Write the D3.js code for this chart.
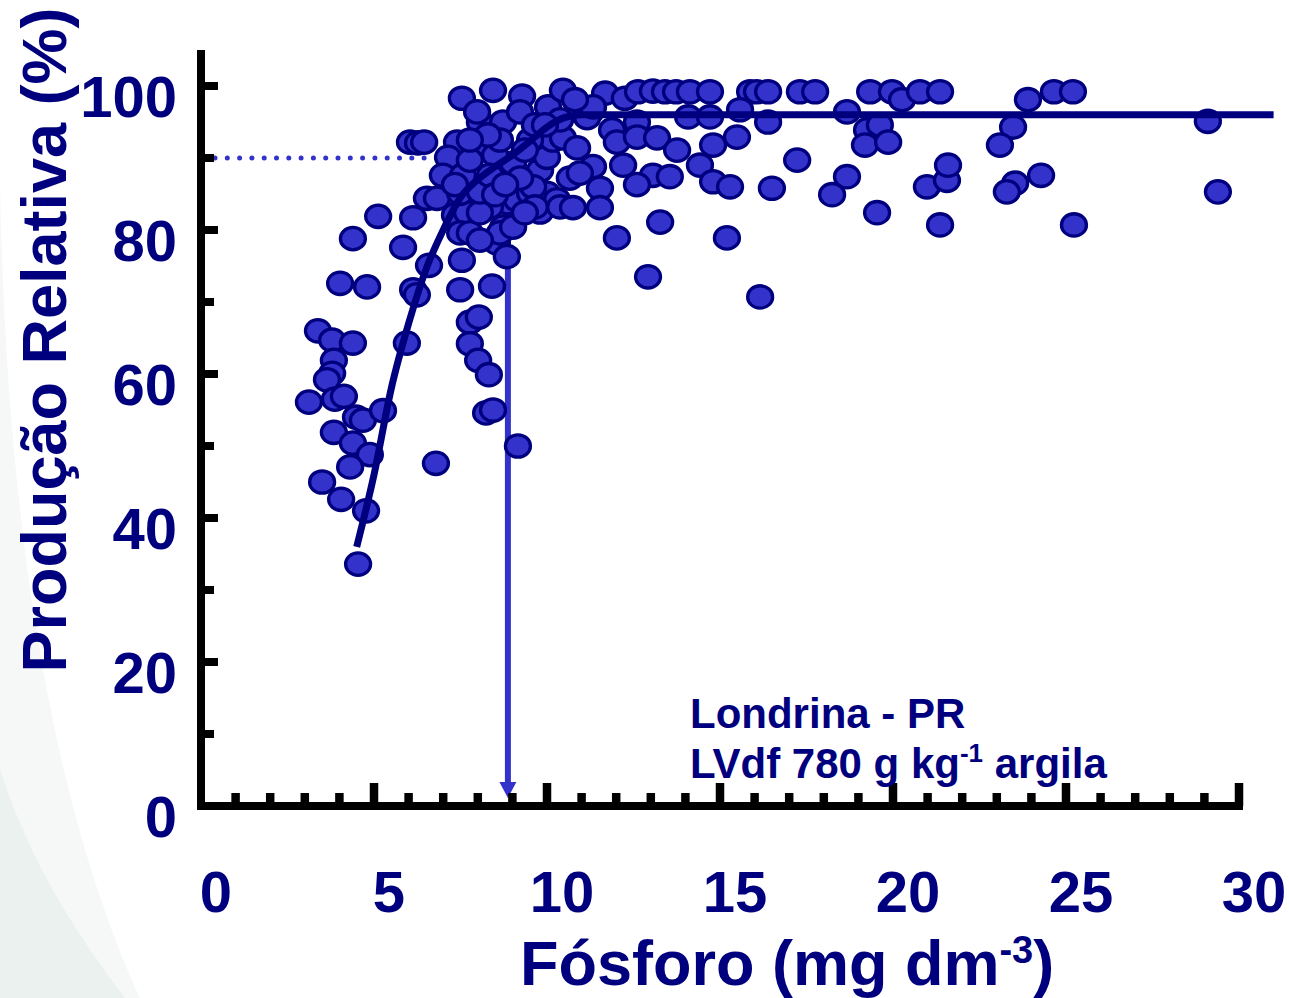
<!DOCTYPE html>
<html><head><meta charset="utf-8">
<script src="https://cdn.jsdelivr.net/npm/d3@7"></script>
<style>html,body{margin:0;padding:0;background:#fff;} svg{display:block;}</style>
</head><body>
<svg id="chart" width="1289" height="998"></svg>
<script>
// Observations: soil P (mg dm-3) and relative yield (%)
const phosphorus = [3.38,3.79,4.39,3.84,3.79,3.64,3.12,3.87,4.13,4.48,4.68,5.26,3.84,4.39,4.88,4.31,3.50,4.05,4.77,4.54,
 4.02,4.80,4.39,5.12,5.95,6.13,6.24,6.79,5.84,6.59,6.13,6.53,6.04,6.27,6.45,
 7.49,8.41,7.77,8.03,7.77,8.01,8.32,8.24,8.44,9.16,7.54,8.55,8.84,8.73,8.84,8.35,9.13,7.34,7.69,7.49,7.77,8.06,
 7.54,8.44,9.28,10.03,8.06,7.98,8.73,9.22,7.40,7.14,7.98,9.02,9.80,10.0,10.17,6.82,7.49,8.06,9.51,10.0,9.80,6.99,7.57,
 10.46,10.46,10.87,11.33,10.66,11.24,8.64,9.02,10.29,9.60,
 11.68,12.25,12.63,13.06,13.41,13.73,14.13,14.71,15.87,16.07,16.39,17.31,17.75,19.34,19.97,20.26,20.78,21.36,
 11.16,12.60,14.08,14.71,15.58,16.39,18.67,19.25,19.62,19.19,19.86,15.49,14.80,11.88,12.02,12.60,13.18,13.76,
 12.20,13.06,13.55,14.42,11.53,12.60,10.38,10.75,11.53,14.80,15.29,16.50,17.23,18.67,18.24,19.54,20.98,21.56,21.59,21.36,
 15.20,12.02,12.92,16.16,13.27,10.95,11.33,
 23.90,24.65,25.20,23.47,23.09,23.53,23.29,24.28,25.23,29.10,29.39,
 7.77,8.50,8.64,9.51,9.65,8.29,9.36,7.34,8.35,9.22,8.06,8.50,9.65,8.79,9.36,7.77,10.81,10.38,9.94];
const relativeYield = [66.0,64.7,64.3,61.9,60.1,59.2,56.1,56.5,56.9,54.0,53.6,54.9,51.9,50.4,48.8,47.1,45.0,42.6,41.0,33.6,
 72.6,72.1,78.8,81.9,64.3,71.7,71.0,47.6,77.6,75.1,81.7,84.4,92.2,92.1,92.2,
 71.7,72.2,67.2,67.9,64.2,61.9,59.9,54.6,55.0,50.0,75.8,78.2,76.3,80.4,83.8,83.2,84.2,82.1,82.4,79.6,79.6,82.4,
 98.3,99.4,98.6,97.1,95.0,96.4,95.0,96.4,92.2,90.1,91.1,89.3,88.3,90.1,92.5,84.4,85.1,85.3,85.1,85.1,82.5,87.6,87.6,
 99.4,92.8,91.4,88.8,87.2,96.3,79.6,80.4,84.2,86.0,
 99.0,98.3,99.2,99.3,99.2,99.2,99.2,99.2,99.2,99.2,99.2,99.2,99.2,99.2,99.2,98.1,99.2,99.2,
 95.6,95.0,95.7,95.7,96.7,95.0,96.4,93.9,94.6,91.8,92.2,92.9,91.8,93.9,92.2,92.9,92.8,91.1,
 89.0,87.6,87.4,89.0,85.8,86.3,83.2,83.1,83.1,86.7,86.0,85.8,89.7,87.4,84.9,82.4,86.0,86.9,89.0,80.7,
 78.9,78.9,73.5,70.7,81.1,87.9,97.1,
 98.1,99.2,99.2,94.3,91.8,86.5,85.3,87.6,80.7,95.1,85.3,
 89.7,90.4,92.5,92.5,94.6,93.2,91.1,86.3,87.6,87.2,78.6,84.9,83.2,86.3,82.4,92.5,98.1,95.3,94.6];
// Fitted response curve
const curveX = [4.5, 5, 5.5, 6, 6.5, 7, 7.5, 8, 8.5, 9, 9.5, 10, 10.5, 11, 31];
const curveY = [36, 46, 58, 67, 74.5, 80, 84.5, 87, 88.8, 90.4, 92.3, 94.3, 95.6, 96, 96];
// Critical level annotation
const criticalP = 8.87;
const criticalYield = 90;
// Axes
const xTicks = [0, 5, 10, 15, 20, 25, 30];
const xMinorTicks = d3.range(1, 31);
const yTicks = [0, 20, 40, 60, 80, 100];
const yMinorTicks = [10, 20, 30, 40, 50, 60, 70, 80, 90, 100];
const annotationLine1 = "Londrina - PR";

const svg = d3.select("#chart");
const navy = "#00007f";
const blue = "#3333cc";
const font = "'Liberation Sans', Arial, sans-serif";

const x = d3.scaleLinear().domain([0, 30]).range([201, 1239]);
const y = d3.scaleLinear().domain([0, 100]).range([806, 86]);

// background swoosh
svg.append("path").attr("d", "M0,180 C4,420 30,760 140,998 L0,998 Z").attr("fill", "#f6f8f7");
svg.append("path").attr("d", "M0,770 C30,860 70,925 125,998 L0,998 Z").attr("fill", "#ebf1ef");

// dotted guide
svg.append("line")
  .attr("x1", 215).attr("x2", x(criticalP))
  .attr("y1", y(criticalYield)).attr("y2", y(criticalYield))
  .attr("stroke", blue).attr("stroke-width", 5)
  .attr("stroke-linecap", "round").attr("stroke-dasharray", "0,12.3");

// arrow
svg.append("line")
  .attr("x1", x(criticalP)).attr("x2", x(criticalP))
  .attr("y1", y(criticalYield)).attr("y2", 786)
  .attr("stroke", blue).attr("stroke-width", 6);
svg.append("path")
  .attr("d", `M${x(criticalP)-8.5},782 L${x(criticalP)+8.5},782 L${x(criticalP)},798 Z`)
  .attr("fill", blue);

// points
const pts = phosphorus.map((p, i) => [p, relativeYield[i]]);
svg.append("g").selectAll("ellipse").data(pts).join("ellipse")
  .attr("cx", d => x(d[0])).attr("cy", d => y(d[1]))
  .attr("rx", 12.5).attr("ry", 11.2)
  .attr("fill", blue).attr("stroke", navy).attr("stroke-width", 3.3);

// fitted curve
const cpts = curveX.map((c, i) => [c, curveY[i]]);
svg.append("path")
  .attr("d", d3.line().x(d => x(d[0])).y(d => y(d[1])).curve(d3.curveMonotoneX)(cpts))
  .attr("fill", "none").attr("stroke", navy).attr("stroke-width", 7);

// axes
svg.append("line").attr("x1", 201).attr("x2", 201).attr("y1", 50).attr("y2", 810)
  .attr("stroke", "#000").attr("stroke-width", 8);
svg.append("line").attr("x1", 197).attr("x2", 1243).attr("y1", y(0)).attr("y2", y(0))
  .attr("stroke", "#000").attr("stroke-width", 8);
svg.append("g").selectAll("line").data(yMinorTicks).join("line")
  .attr("x1", 201).attr("x2", d => d % 20 === 0 ? 218 : 214)
  .attr("y1", d => y(d)).attr("y2", d => y(d))
  .attr("stroke", "#000").attr("stroke-width", 8);
svg.append("g").selectAll("line").data(xMinorTicks).join("line")
  .attr("x1", d => x(d)).attr("x2", d => x(d))
  .attr("y1", y(0)).attr("y2", d => d % 5 === 0 ? 783 : 793)
  .attr("stroke", "#000").attr("stroke-width", 8.5);

// tick labels
svg.append("g").selectAll("text").data(yTicks).join("text")
  .attr("x", 177).attr("y", d => y(d) + 31)
  .attr("text-anchor", "end")
  .style("font", `bold 58px ${font}`).attr("fill", navy)
  .text(d => d);
svg.append("g").selectAll("text").data(xTicks).join("text")
  .attr("x", d => x(d) + 15).attr("y", 912)
  .attr("text-anchor", "middle")
  .style("font", `bold 58px ${font}`).attr("fill", navy)
  .text(d => d);

// axis titles
svg.append("text")
  .attr("transform", "translate(66,340) rotate(-90)")
  .attr("text-anchor", "middle")
  .style("font", `bold 63px ${font}`).attr("fill", navy)
  .text("Produção Relativa (%)");
const xt = svg.append("text").attr("x", 520).attr("y", 985)
  .style("font", `bold 63px ${font}`).attr("fill", navy);
xt.append("tspan").text("Fósforo (mg dm");
xt.append("tspan").attr("dy", -22).style("font-size", "38px").text("-3");
xt.append("tspan").attr("dy", 22).text(")");

// annotation
svg.append("text").attr("x", 690).attr("y", 728)
  .style("font", `bold 42px ${font}`).attr("fill", navy).text(annotationLine1);
const an = svg.append("text").attr("x", 690).attr("y", 778)
  .style("font", `bold 42px ${font}`).attr("fill", navy);
an.append("tspan").text("LVdf 780 g kg");
an.append("tspan").attr("dy", -16).style("font-size", "26px").text("-1");
an.append("tspan").attr("dy", 16).text(" argila");
</script>
</body></html>
